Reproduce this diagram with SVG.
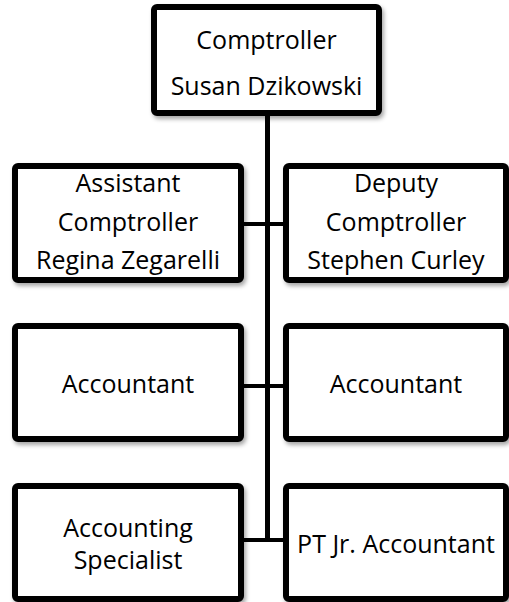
<svg xmlns="http://www.w3.org/2000/svg" width="509" height="602" viewBox="0 0 509 602">
<defs>
<filter id="sh" x="-10%" y="-10%" width="130%" height="130%">
<feDropShadow dx="2" dy="3" stdDeviation="2" flood-color="#000" flood-opacity="0.35"/>
</filter>
</defs>
<style>
.box{fill:#fff;stroke:#000;stroke-width:6;filter:url(#sh)}
.t{font-family:"Open Sans","Liberation Sans",sans-serif;font-size:25px;fill:#000;text-anchor:middle}
.c{stroke:#000;fill:none}
</style>
<rect width="509" height="602" fill="#fff"/>
<g id="connectors">
<line class="c" x1="267.5" y1="116" x2="267.5" y2="542" stroke-width="5"/>
<line class="c" x1="244" y1="224" x2="284" y2="224" stroke-width="4"/>
<line class="c" x1="244" y1="386" x2="284" y2="386" stroke-width="4"/>
<line class="c" x1="244" y1="540" x2="284" y2="540" stroke-width="4"/>
</g>
<g id="comptroller">
<rect class="box" x="154" y="7" width="225" height="106" rx="3"/>
<text class="t" x="266.5" y="49">Comptroller</text>
<text class="t" x="266.5" y="95">Susan Dzikowski</text>
</g>
<g id="assistant">
<rect class="box" x="15" y="166" width="226" height="114" rx="3"/>
<text class="t" x="128" y="192">Assistant</text>
<text class="t" x="128" y="231">Comptroller</text>
<text class="t" x="128" y="269">Regina Zegarelli</text>
</g>
<g id="deputy">
<rect class="box" x="286" y="166" width="220" height="114" rx="3"/>
<text class="t" x="396" y="192">Deputy</text>
<text class="t" x="396" y="231">Comptroller</text>
<text class="t" x="396" y="269">Stephen Curley</text>
</g>
<g id="accountant1">
<rect class="box" x="15" y="326" width="226" height="113" rx="3"/>
<text class="t" x="128" y="393">Accountant</text>
</g>
<g id="accountant2">
<rect class="box" x="286" y="326" width="220" height="113" rx="3"/>
<text class="t" x="396" y="393">Accountant</text>
</g>
<g id="specialist">
<rect class="box" x="15" y="486" width="226" height="113" rx="3"/>
<text class="t" x="128" y="537">Accounting</text>
<text class="t" x="128" y="569">Specialist</text>
</g>
<g id="ptjr">
<rect class="box" x="286" y="486" width="220" height="113" rx="3"/>
<text class="t" x="396" y="553">PT Jr. Accountant</text>
</g>
</svg>
